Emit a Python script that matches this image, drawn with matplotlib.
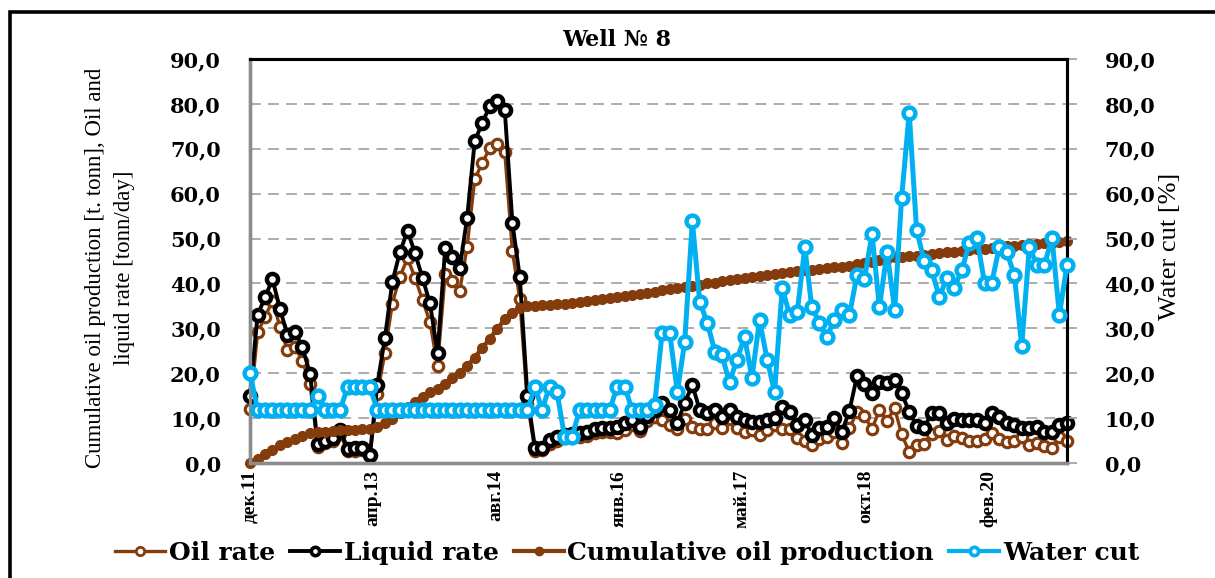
import matplotlib
matplotlib.use("Agg")
import matplotlib.pyplot as plt
from matplotlib.lines import Line2D
from matplotlib.patches import Rectangle
import pandas as pd

# ---- data: monthly well records, Dec 2011 .. Jan 2021 ----
start_month = "2011-12-01"
n_months = 110

oil_rate = [
    12.0, 29.1, 32.6, 36.2, 30.3, 25.1, 25.8, 22.8, 17.5, 3.6,
    4.4, 4.9, 6.4, 2.7, 2.7, 2.8, 1.5, 15.3, 24.5, 35.5,
    41.5, 45.6, 41.3, 36.3, 31.4, 21.6, 42.2, 40.5, 38.3, 48.2,
    63.2, 66.8, 70.1, 71.1, 69.3, 47.2, 36.5, 13.2, 2.7, 2.9,
    4.2, 4.9, 5.8, 6.1, 5.9, 6.1, 6.6, 6.9, 6.9, 6.6,
    7.4, 8.5, 7.1, 9.3, 10.3, 9.5, 8.4, 7.5, 9.8, 8.0,
    7.6, 7.6, 8.9, 7.8, 9.7, 7.9, 6.9, 7.4, 6.2, 7.4,
    8.4, 7.6, 7.6, 5.6, 5.0, 4.0, 5.4, 5.8, 6.8, 4.5,
    7.8, 11.3, 10.4, 7.6, 11.8, 9.4, 12.2, 6.4, 2.5, 4.0,
    4.3, 6.4, 7.1, 5.2, 6.0, 5.5, 4.9, 4.8, 5.3, 6.7,
    5.3, 4.7, 4.9, 5.8, 4.0, 4.5, 3.8, 3.4, 5.7, 5.0,
]

liquid_rate = [
    15.0, 33.0, 37.0, 41.0, 34.3, 28.5, 29.2, 25.8, 19.8, 4.2,
    5.0, 5.5, 7.3, 3.2, 3.3, 3.4, 1.8, 17.4, 27.8, 40.3,
    47.0, 51.7, 46.8, 41.2, 35.6, 24.5, 47.9, 45.9, 43.4, 54.6,
    71.7, 75.7, 79.5, 80.6, 78.6, 53.5, 41.4, 15.0, 3.3, 3.3,
    5.1, 5.8, 6.2, 6.5, 6.7, 6.9, 7.5, 7.8, 7.8, 8.0,
    8.9, 9.6, 8.0, 10.5, 11.8, 13.4, 11.8, 8.9, 13.4, 17.4,
    11.8, 11.1, 11.8, 10.2, 11.8, 10.2, 9.6, 9.1, 9.1, 9.6,
    10.0, 12.5, 11.4, 8.5, 9.6, 6.2, 7.8, 8.0, 10.0, 6.9,
    11.6, 19.4, 17.6, 15.6, 18.0, 17.8, 18.5, 15.6, 11.4, 8.3,
    7.8, 11.2, 11.2, 8.9, 9.8, 9.6, 9.6, 9.6, 8.9, 11.2,
    10.2, 8.9, 8.5, 7.8, 7.8, 8.0, 6.8, 6.9, 8.5, 8.9,
]

cumulative_oil = [
    0.0, 0.9, 1.9, 3.0, 3.9, 4.7, 5.4, 6.1, 6.7, 6.8,
    6.9, 7.1, 7.3, 7.3, 7.4, 7.5, 7.6, 8.0, 8.8, 9.8,
    11.1, 12.5, 13.7, 14.8, 15.8, 16.5, 17.7, 19.0, 20.1, 21.6,
    23.5, 25.6, 27.7, 29.9, 32.0, 33.4, 34.5, 34.9, 35.0, 35.1,
    35.2, 35.4, 35.5, 35.7, 35.9, 36.1, 36.3, 36.5, 36.7, 36.9,
    37.1, 37.4, 37.6, 37.9, 38.2, 38.5, 38.7, 39.0, 39.3, 39.5,
    39.7, 40.0, 40.2, 40.5, 40.8, 41.0, 41.2, 41.4, 41.6, 41.9,
    42.1, 42.3, 42.6, 42.7, 42.9, 43.0, 43.2, 43.4, 43.6, 43.7,
    43.9, 44.3, 44.6, 44.8, 45.2, 45.5, 45.8, 46.0, 46.1, 46.2,
    46.4, 46.6, 46.8, 46.9, 47.1, 47.3, 47.4, 47.6, 47.7, 47.9,
    48.1, 48.3, 48.4, 48.6, 48.7, 48.8, 49.0, 49.1, 49.2, 49.4,
]

water_cut = [
    20.0, 11.8, 11.8, 11.8, 11.8, 11.8, 11.8, 11.8, 11.8, 15.0,
    11.8, 11.8, 11.8, 17.0, 17.0, 17.0, 17.0, 11.8, 11.8, 11.8,
    11.8, 11.8, 11.8, 11.8, 11.8, 11.8, 11.8, 11.8, 11.8, 11.8,
    11.8, 11.8, 11.8, 11.8, 11.8, 11.8, 11.8, 11.8, 17.0, 11.8,
    17.0, 15.8, 5.8, 5.8, 11.8, 11.8, 11.8, 11.8, 11.8, 17.0,
    17.0, 11.8, 11.8, 11.8, 13.0, 29.0, 29.0, 15.8, 27.0, 53.9,
    35.9, 31.2, 24.7, 24.0, 18.0, 23.0, 28.1, 19.0, 31.8, 23.0,
    15.8, 39.0, 33.0, 33.6, 48.1, 34.7, 31.2, 28.1, 31.8, 34.1,
    33.0, 41.9, 41.0, 51.0, 34.7, 47.0, 34.1, 59.0, 78.0, 51.9,
    45.0, 43.0, 37.0, 41.2, 39.0, 43.0, 49.0, 50.1, 40.1, 40.1,
    48.1, 47.0, 41.9, 26.0, 48.1, 44.1, 44.1, 50.1, 33.0, 44.1,
]

x_tick_dates = ["2011-12-01", "2013-04-14", "2014-08-27", "2016-01-09",
                "2017-05-23", "2018-10-05", "2020-02-17"]
x_tick_labels = ["дек.11", "апр.13", "авг.14", "янв.16", "май.17", "окт.18", "фев.20"]
y_ticks = [0, 10, 20, 30, 40, 50, 60, 70, 80, 90]
y_tick_labels = ["0,0", "10,0", "20,0", "30,0", "40,0", "50,0", "60,0", "70,0", "80,0", "90,0"]

# ---- styling ----
BROWN = "#843C0C"
BLUE = "#00B0F0"
GRID = "#a6a6a6"
SPINE_GRAY = "#8c8c8c"
serif_wide = ["DejaVu Serif", "DejaVu Sans"]
serif_narrow = ["Liberation Serif", "DejaVu Serif"]

W, H = 1215, 578
fig = plt.figure(figsize=(W / 100, H / 100), dpi=100)
fig.patch.set_facecolor("white")

# outer chart frame
fig.patches.append(Rectangle((10 / W, -0.05), 1.1, (H - 12) / H + 0.05,
                             transform=fig.transFigure, fill=False,
                             edgecolor="black", linewidth=2.6, zorder=0))

left, right, top, bottom = 250, 1067, 59, 463
ax = fig.add_axes([left / W, (H - bottom) / H, (right - left) / W, (bottom - top) / H])
ax2 = ax.twinx()

dates = pd.date_range(start_month, periods=n_months, freq="MS")

ax.plot(dates, oil_rate, color=BROWN, lw=2.4, marker="o", ms=7.5,
        mfc="white", mec=BROWN, mew=2.3, clip_on=False, zorder=3)
ax.plot(dates, liquid_rate, color="black", lw=2.8, marker="o", ms=8,
        mfc="white", mec="black", mew=3.2, clip_on=False, zorder=4)
ax.plot(dates, cumulative_oil, color=BROWN, lw=3.2, marker="o", ms=7,
        mfc=BROWN, mec=BROWN, mew=1.0, clip_on=False, zorder=5)
ax2.plot(dates, water_cut, color=BLUE, lw=3.6, marker="o", ms=8.5,
         mfc="white", mec=BLUE, mew=3.2, clip_on=False, zorder=6)

for a in (ax, ax2):
    a.set_ylim(0, 90)
    a.set_yticks(y_ticks)
    a.set_xlim(dates[0], dates[-1])
    a.set_facecolor("none")

ax.set_yticklabels(y_tick_labels, fontfamily=serif_wide, fontweight="bold", fontsize=15)
ax2.set_yticklabels(y_tick_labels, fontfamily=serif_wide, fontweight="bold", fontsize=15)
ax.tick_params(axis="y", length=0, pad=21)
ax2.tick_params(axis="y", length=7, width=1.3, color=GRID, pad=20)

ax.set_xticks(pd.to_datetime(x_tick_dates))
ax.set_xticklabels(x_tick_labels, rotation=90, fontfamily=serif_narrow,
                   fontweight="bold", fontsize=14)
ax.tick_params(axis="x", length=0, pad=5)

# horizontal dashed grid
for yv in y_ticks[1:-1]:
    ax.axhline(yv, color=GRID, lw=1.3, ls=(0, (6, 4)), zorder=1)

for a in (ax, ax2):
    a.spines["top"].set_color("black")
    a.spines["top"].set_linewidth(2.2)
    a.spines["right"].set_color("black")
    a.spines["right"].set_linewidth(2.2)
    a.spines["left"].set_color(SPINE_GRAY)
    a.spines["left"].set_linewidth(2.4)
    a.spines["bottom"].set_color(SPINE_GRAY)
    a.spines["bottom"].set_linewidth(2.4)

# titles and axis labels
fig.text(617 / W, (H - 40) / H, "Well № 8", ha="center", va="center",
         fontfamily=serif_wide, fontweight="bold", fontsize=16)
fig.text(110 / W, (H - 268) / H,
         "Cumulative oil production [t. tonn], Oil and\nliquid rate [tonn/day]",
         rotation=90, ha="center", va="center", multialignment="center",
         fontfamily=serif_narrow, fontsize=16.5, linespacing=1.45)
fig.text(1170 / W, (H - 246) / H, "Water cut [%]", rotation=90,
         ha="center", va="center", fontfamily=serif_narrow, fontsize=19)

# legend
handles = [
    Line2D([], [], color=BROWN, lw=2.4, marker="o", ms=6, mfc="white", mec=BROWN, mew=2),
    Line2D([], [], color="black", lw=2.8, marker="o", ms=6, mfc="white", mec="black", mew=2.6),
    Line2D([], [], color=BROWN, lw=3.0, marker="o", ms=6, mfc=BROWN, mec=BROWN),
    Line2D([], [], color=BLUE, lw=3.0, marker="o", ms=6, mfc="white", mec=BLUE, mew=2.6),
]
labels = ["Oil rate", "Liquid rate", "Cumulative oil production", "Water cut"]
fig.legend(handles, labels, loc="center", bbox_to_anchor=(627 / W, (H - 553) / H),
           ncol=4, frameon=False, handlelength=2.0, handletextpad=0.15,
           columnspacing=0.6, prop={"family": serif_wide, "weight": "bold", "size": 18})

fig.savefig("out.png", dpi=100, facecolor="white")
